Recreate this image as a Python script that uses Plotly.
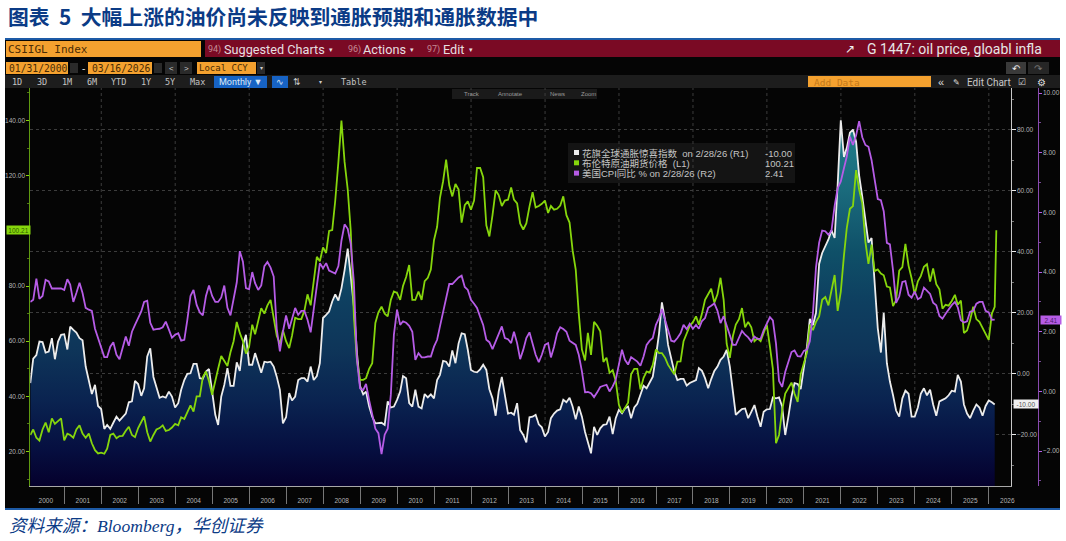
import pandas as pd
import plotly.graph_objects as go

# ---------- data ----------
oil_2000s = [26,28,25,24,28,30.5,27,32,30,31,32,24,
 26.5,26,25,28,29.5,26.5,25,26.5,23,20.5,19.3,19.6,
 19.2,21,26,26.5,24.8,25.6,25.7,27.5,29,26,25.2,28.5,
 31,32.7,27,23.6,26,28,28.5,29.5,27.5,27.8,28.7,30,
 29.5,32.4,31.8,34,36.7,34.5,40,40,47,49,45.5,40.6,
 46,50,54.6,53,51,56,60,67,63,60,55.5,58,
 66,62.5,68,72,70,73,75,68,62,59,64,60,
 57.5,62,68.5,68,68,71,77,73,81,90.6,89,94,
 92,100,100.3,111,125,140,125,115,100,69,53,46,
 46,46.6,50,52,66.6,70.5,72.5,70,69,75,78,77.5]
oil_2010s = [75,80,83.3,87.6,75,75,78,75,81.8,83,86,96.6,
 101.5,112,118,125.8,116.5,112.5,117,115,103,109.3,110.7,107.7,
 111,122.8,122.8,119.5,102,98,105.7,114.7,113,109,111,111.3,
 115.7,111.3,110,102.7,100.5,102.7,108.8,114,108.5,109,109.8,111,
 106.5,109,107.7,108,109.2,112.5,105.7,103,93,86,70,57,
 53,63,55,67,65.6,63.6,52.5,54,48.5,49.5,45.6,37,
 34,36,37.7,48,50,50,42.5,46.7,49,48.7,51.4,57,
 55.7,55.7,54,51.4,49.6,48,52.6,52.7,60,63,65.5,66.9,
 69,66,70,75,77,79,74,77,83,75,59,54,
 62,66,68,72,65,67,65,60,61,60,63,66]
oil_2020s = [58,50,23,26,35,41,43,45,41,38,48,52,
 56,66,64,67,69,75,76,73,79,84,71,78,
 91,101,108,109,122,115,110,96,88,95,85.4,86,
 84.5,83.9,79.8,79.5,72.7,74.9,85.6,86.9,95.3,87.4,82.8,77,
 81.7,83.6,87,87.9,81.6,86.4,80.7,78.8,71.8,73.2,72.9,74.6,
 76.8,73.2,74.7,63,63.9,67.6,72.5,68,67,65,63,60.5,
 70,72.5,100.21]

csi_2000s = [-3,5,6.2,10.6,10.4,7,7.3,11.7,4.8,10.6,12.8,13,
 8,15.5,14.4,13.5,11.7,11,2.4,-2,-6.6,-3.6,-10.5,-11.5,
 -18,-16.7,-18,-16,-14,-15.3,-14,-13,-9.3,-9,-2.3,-3.3,
 -7.2,-4.7,5.7,8.4,-1,-4.7,-7.8,-7.4,-7.8,-5.8,-7.4,-11,
 -9.6,-5.2,-2,0,0.2,3.3,3.3,-1.4,-1.6,0.8,1.6,-5.8,
 -13.4,-16.7,-7.4,-3.6,1.9,-3.9,-3.9,3.8,1,9.5,12.8,3,
 3,6.8,3.7,0.4,4,3.8,4,2.4,-0.9,-5.2,-16.2,-14.2,
 -6.3,-8.7,-7.4,-2,-1.4,-1.4,-2.5,2.4,-2,-0.7,3.5,18.3,
 19.3,20.4,23.7,26,24,28,34,41,32,22,7,-4,
 -6.7,-5.8,-10.7,-14,-16.2,-16,-16,-16.7,-9,-11,-10.7,-8.5]
csi_2010s = [-5.8,-0.7,-1.4,-9.6,-10.7,-5.2,-10.7,-11.3,-6.6,-7.7,-6.7,-8,
 -2,-0.3,4.3,4,2.4,7.7,3.5,10,13.3,13,7.9,1.3,
 0.7,0.5,1.5,3,1.3,-5,-8,-13.7,-5.8,-1,-6.3,-13,
 -12.7,-13.4,-9.6,-18.4,-20,-22.4,-14.2,-14,-13.4,-16.5,-17.5,-20.5,
 -19,-14.5,-13,-12,-11.6,-8.5,-9.3,-7.8,-10.7,-14.9,-10.7,-14,
 -19,-22,-26,-17.3,-20,-17.8,-16.7,-16.5,-14,-19.7,-14.5,-11.8,
 -12.9,-11.3,-10.7,-14.5,-11,-9.8,-6.9,-3.9,-4.7,-2.7,-0.9,5.7,
 13.3,23.4,17.7,9.5,5.1,0.8,-2,-1.6,-1.6,-3.8,-3,-2.5,
 -2,1.9,1,-1.4,-4.7,-1.7,1,2.4,4.6,5.7,7.9,2.4,
 -6.3,-13.4,-12.4,-11.5,-11.3,-14.5,-12.4,-10.2,-14,-17.3,-12.4,-11.6]
csi_2020s = [-11.5,-7.7,-8,-7.7,-10.7,-20,-14,-7.4,-3,-3.3,-5,1.3,
 9,18,16,20,36,39.6,42,44,47,44.5,62,83,
 71,74,79,80,76,65,58,50,43,44.5,30,15,
 7,20,3.5,-2.5,-7,-12,-14,-8,-5.5,-6.5,-14,-14,
 -11,-6.5,-4.7,-7,-5.2,-10,-13.7,-9,-8.5,-8,-7,-5.5,
 -5.8,-0.3,-2.5,-10,-13,-14.5,-12,-10,-11,-13.7,-10.5,-8.7,
 -9.3,-10]

cpi_2000s = [3,3.07,3.78,3.1,3.2,3.74,3.69,3.45,3.45,3.45,3.45,3.4,
 3.76,3.58,3,3.3,3.64,3.3,2.8,2.74,2.7,2.1,1.8,1.5,
 1.15,1.15,1.5,1.65,1.23,1.08,1.5,1.84,1.53,2,2.23,2.46,
 2.68,3,3.04,2.3,2.07,2.09,2.1,2.15,2.34,2.07,1.8,1.9,
 1.95,1.7,1.73,2.4,3.2,3.4,2.9,2.65,2.55,3.2,3.55,3.2,
 3,3,3.15,3.55,2.8,2.55,3.15,3.65,4.7,4.35,3.46,3.42,
 4,3.63,3.4,3.55,4.2,4.34,4.15,3.85,2.1,1.34,2,2.55,
 2.1,2.45,2.8,2.57,2.7,2.7,2.4,1.98,2.8,3.55,4.3,4.13,
 4.3,4.05,4,3.95,4.2,5.05,5.6,5.45,4.95,3.66,1.07,0.1,
 0.05,0.25,-0.3,-0.73,-1.25,-1.4,-2.1,-1.45,-1.25,-0.1,1.9,2.74]
cpi_2010s = [2.23,2.35,2.3,2.2,2,1.06,1.28,1.14,1.14,1.17,1.17,1.5,
 1.73,2.18,2.68,3.18,3.6,3.6,3.7,3.82,3.88,3.5,3.4,3.07,
 2.94,2.8,2.5,2.23,1.73,1.65,1.42,1.68,1.95,2.18,1.79,1.75,
 1.62,2,1.62,1.08,1.4,1.79,1.98,1.56,1.23,0.98,1.23,1.56,
 1.62,1.14,1.5,1.95,2.15,2.09,2,1.7,1.64,1.56,1.23,0.67,
 -0.03,-0.02,-0.06,-0.19,-0.03,0.15,0.19,0.22,0,0.17,0.39,0.9,
 1.4,1.06,0.9,1.15,1.06,1,0.86,1.17,1.56,1.7,1.79,2.23,
 2.46,2.76,2.4,2.07,1.7,1.67,1.79,1.95,2.23,2.09,2.27,2.1,
 2.23,2.1,2.36,2.46,2.8,2.87,2.95,2.7,2.29,2.52,2.18,1.91,
 1.56,1.56,1.79,2.03,1.9,1.81,1.67,1.84,1.76,1.76,2.05,2.29]
cpi_2020s = [2.49,2.38,1.6,0.35,0.15,0.65,1,1.32,1.37,1.18,1.17,1.36,
 1.4,1.68,2.62,4.16,4.99,5.39,5.37,5.25,5.39,6.22,6.81,7.04,
 7.48,7.87,8.54,8.26,8.58,9.06,8.52,8.26,8.2,7.75,7.11,6.45,
 6.41,6.04,4.98,4.93,4.05,2.97,3.18,3.67,3.7,3.24,3.14,3.35,
 3.09,3.15,3.48,3.36,3.27,2.97,2.89,2.53,2.44,2.6,2.75,2.89,
 3,2.82,2.39,2.31,2.35,2.67,2.7,2.94,3,3,2.7,2.65,
 2.4,2.41]

series_names = ["花旗全球通胀惊喜指数  on 2/28/26 (R1)", "布伦特原油期货价格  (L1)", "美国CPI同比 % on 2/28/26 (R2)"]
series_last = ["-10.00", "100.21", "2.41"]
grid_years = list(range(2002, 2027, 2))
left_ticks = [20, 40, 60, 80, 120, 140]

oil = oil_2000s + oil_2010s + oil_2020s
csi = csi_2000s + csi_2010s + csi_2020s
cpi = cpi_2000s + cpi_2010s + cpi_2020s

month_ends = pd.date_range("2000-01-31", periods=len(csi), freq="ME")
oil_dates = list(month_ends) + [pd.Timestamp("2026-03-16")]

W, H = 1066, 541
L_RANGE = [7.5, 151.8]
R1_RANGE = [-36.7, 93.6]
R2_RANGE = [-3.17, 10.17]
X_RANGE = ["2000-01-31", "2026-08-04"]

GREEN, WHITE, PURPLE = "#86d60c", "#ececec", "#b65ce6"
TICK = "#b4b4b4"
FONT = "Liberation Sans"

fig = go.Figure()
fig.add_trace(go.Scatter(x=month_ends, y=[R1_RANGE[0]] * len(csi), yaxis="y", mode="lines",
                         line=dict(width=0), hoverinfo="skip", showlegend=False))
fig.add_trace(go.Scatter(x=month_ends, y=csi, yaxis="y", mode="lines", fill="tonexty",
                         fillgradient=dict(type="vertical", start=R1_RANGE[0], stop=84,
                                           colorscale=[[0, "#05002c"], [0.1, "#060f40"], [0.23, "#0a2350"],
                                                       [0.37, "#0e3559"], [0.5, "#0e3f60"], [0.635, "#0f5068"],
                                                       [0.8, "#1a6a7c"], [1, "#22808c"]]),
                         line=dict(color=WHITE, width=1.8), name=series_names[0], showlegend=False))
fig.add_trace(go.Scatter(x=oil_dates, y=oil, yaxis="y2", mode="lines",
                         line=dict(color=GREEN, width=1.8), name=series_names[1], showlegend=False))
fig.add_trace(go.Scatter(x=month_ends, y=cpi, yaxis="y3", mode="lines",
                         line=dict(color=PURPLE, width=1.8), name=series_names[2], showlegend=False))


def rx(x):
    return x / W


def ry(y):
    return 1 - y / H


shapes, notes = [], []


def box(x0, y0, x1, y1, color):
    shapes.append(dict(type="rect", xref="paper", yref="paper", x0=rx(x0), x1=rx(x1), y0=ry(y1), y1=ry(y0),
                       fillcolor=color, line=dict(width=0), layer="below"))


def text(x, y, s, size=10, color="#cfcfcf", anchor="left", family=FONT):
    notes.append(dict(xref="paper", yref="paper", x=rx(x), y=ry(y), text=s, showarrow=False, xanchor=anchor,
                      yanchor="middle", borderpad=0, font=dict(size=size, color=color, family=family)))


def tag(x, yref, value, s, width, bg, fg):
    notes.append(dict(xref="paper", yref=yref, x=rx(x), y=value, text=s, showarrow=False, xanchor="left",
                      yanchor="middle", width=width, height=8, align="center", bgcolor=bg, borderpad=0,
                      font=dict(size=6.5, color=fg, family=FONT)))


MONO = "DejaVu Sans Mono"
ROB = "Roboto"
CJK = "Noto Sans CJK SC"
ORANGE = "#f4a12f"
DARK = "#4a2c05"

# page frame
box(5, 40, 1060, 508, "#050505")
box(5, 38, 1060, 40, "#1d5aa6")
box(5, 508, 1060, 510, "#1d5aa6")

# top bar
box(205, 40, 1060, 57, "#7a0a24")
box(6, 41, 201, 57, ORANGE)
text(7, 49, "CSIIGL Index", 11, DARK, family=MONO)
for x0, num, label, w in [(207, "94)", "Suggested Charts", 223), (347, "96)", "Actions", 362), (426, "97)", "Edit", 442)]:
    text(x0, 49, num, 9, "#c58a95", family=ROB)
    text(w, 49, label, 12.7, "#e6dfe0", family=ROB)
for x in (331, 412, 471):
    text(x, 49, "▾", 7, "#e6dfe0", "center")
text(850, 49, "↗", 12, "#f0f0f0", "center")
text(866, 49, "G 1447: oil price, gloabl infla", 14, "#e6e6e6", family=ROB)

# date row
box(6, 62, 68, 74, ORANGE)
box(88, 62, 152, 74, ORANGE)
box(197, 62, 256, 74, ORANGE)
box(70, 63, 78, 73, "#2a2a2a")
box(154, 63, 162, 73, "#2a2a2a")
box(165, 62, 177, 74, "#2a2a2a")
box(180, 62, 192, 74, "#2a2a2a")
box(257, 62, 265, 74, "#2a2a2a")
text(8, 68, "01/31/2000", 9.7, DARK, family=MONO)
text(83, 68, "-", 10, "#e0e0e0", "center")
text(91, 68, "03/16/2026", 9.7, DARK, family=MONO)
text(171, 68, "<", 8, "#d0d0d0", "center")
text(186, 68, ">", 8, "#d0d0d0", "center")
text(198, 68, "Local CCY", 9, DARK, family=MONO)
text(261, 68, "▾", 6, "#d0d0d0", "center")
box(1006, 62, 1026, 74, "#3a3a3a")
box(1028, 62, 1049, 74, "#262626")
text(1016, 68, "↶", 10, "#e8e8e8", "center")
text(1038, 68, "↷", 10, "#777777", "center")

# range row
box(5, 75, 1060, 88, "#1d1d1d")
for x, s in [(17, "1D"), (42, "3D"), (67, "1M"), (92, "6M"), (118, "YTD"), (146, "1Y"), (170, "5Y"), (197, "Max")]:
    text(x, 82, s, 8.5, "#c4c4c4", "center", family=MONO)
box(214, 76, 267, 88, "#1763c4")
text(240, 82, "Monthly ▼", 9, "#dbe7f5", "center", family=ROB)
box(272, 76, 288, 88, "#1763c4")
text(280, 82, "∿", 9, "#dbe7f5", "center")
text(297, 82, "⇅", 9, "#cccccc", "center")
text(320, 82, "▾", 6, "#cccccc", "center")
text(354, 82, "Table", 8.5, "#c4c4c4", "center", family=MONO)
box(808, 76, 931, 87, ORANGE)
text(813, 82, "Add Data", 9.5, "#c4791a", family=MONO)
text(941, 82, "«", 11, "#dddddd", "center")
text(956, 82, "✎", 8, "#dddddd", "center")
text(966, 82, "Edit Chart", 10, "#c8c8c8", family=ROB)
text(1022, 82, "☑", 9, "#cccccc", "center")
text(1041, 82, "⚙", 10, "#dddddd", "center")

# small tool strip
box(452, 89, 597, 99, "#1a1a1a")
for x, s in [(463, "Track"), (497, "Annotate"), (549, "News"), (580, "Zoom")]:
    text(x, 94, s, 6, "#9a9a9a")

# legend
box(568, 143, 795, 183, "#141414")
for row, (name, last, color) in enumerate(zip(series_names, series_last, [WHITE, GREEN, PURPLE])):
    y = 153 + row * 10.3
    box(574, y - 3, 579, y + 2, color)
    text(581, y, name, 9.5, "#c4c4c4", family=f"{FONT}, {CJK}")
    text(764, y, last, 9.5, "#c4c4c4")

# axis tags
tag(6, "y2", 100.21, series_last[1], 23, GREEN, "#2f5a00")
tag(1013, "y", -10, series_last[0], 24, "#f0f0f0", "#555555")
tag(1040, "y3", 2.41, series_last[2], 20, PURPLE, "#4a1a66")

# titles
text(7, 16, "<b>图表  5  大幅上涨的油价尚未反映到通胀预期和通胀数据中</b>", 20.8, "#0b3b86", family=CJK)
text(8, 526, "<i>资料来源：Bloomberg，华创证券</i>", 17.6, "#0b3b86", family=f"Liberation Serif, {CJK}")

# dotted year grid
for yr in grid_years:
    shapes.append(dict(type="line", xref="x", yref="paper", x0=f"{yr}-01-01", x1=f"{yr}-01-01", y0=ry(486), y1=ry(88),
                       line=dict(color="#3c3c3c", width=1, dash="dot"), layer="below"))

tickfont = dict(size=6.5, color=TICK, family=FONT)
fig.update_layout(
    width=W, height=H, autosize=False,
    margin=dict(l=0, r=0, t=0, b=0, pad=0, autoexpand=False),
    paper_bgcolor="white", plot_bgcolor="rgba(0,0,0,0)",
    showlegend=False,
    shapes=shapes, annotations=notes,
    xaxis=dict(type="date", range=X_RANGE, domain=[rx(30.3), rx(1010.6)], showgrid=False, zeroline=False,
               showline=True, linecolor="#a8a8a8", linewidth=1,
               dtick="M12", tick0="2000-01-01", ticklabelmode="period", tickformat="%Y",
               ticks="outside", ticklen=17, tickcolor="#777777", tickwidth=1, tickfont=tickfont,
               ticklabelstandoff=-9),
    yaxis=dict(range=R1_RANGE, domain=[ry(486), ry(88)], side="right", anchor="x", tick0=0, dtick=20,
               tickformat=".2f", ticks="outside", ticklen=4, tickcolor=WHITE, tickfont=tickfont,
               showline=True, linecolor="#c8c8c8", linewidth=1, zeroline=False,
               showgrid=True, gridcolor="#3c3c3c", griddash="dot", gridwidth=1,
               minor=dict(dtick=10, tick0=0, ticks="outside", ticklen=2, tickcolor="#777777", showgrid=False)),
    yaxis2=dict(range=L_RANGE, overlaying="y", side="left", anchor="x", tickmode="array", tickvals=left_ticks,
                tickformat=".2f", ticks="outside", ticklen=3, tickcolor=GREEN, tickfont=tickfont,
                showline=True, linecolor="#5f9a10", linewidth=1, zeroline=False, showgrid=False,
                minor=dict(dtick=10, tick0=0, ticks="outside", ticklen=2, tickcolor="#4f7a10", showgrid=False)),
    yaxis3=dict(range=R2_RANGE, overlaying="y", side="right", anchor="free", position=rx(1037.7), tick0=0, dtick=2,
                tickformat=".2f", ticks="outside", ticklen=3, tickcolor=PURPLE, tickfont=tickfont,
                showline=True, linecolor="#8a4ab0", linewidth=1, zeroline=False, showgrid=False,
                minor=dict(dtick=1, tick0=0, ticks="outside", ticklen=2, tickcolor="#7a4a99", showgrid=False)),
)

fig.write_html("out.html", config=dict(displayModeBar=False),
               post_script="document.body.style.margin='0';document.documentElement.style.overflow='hidden';")
